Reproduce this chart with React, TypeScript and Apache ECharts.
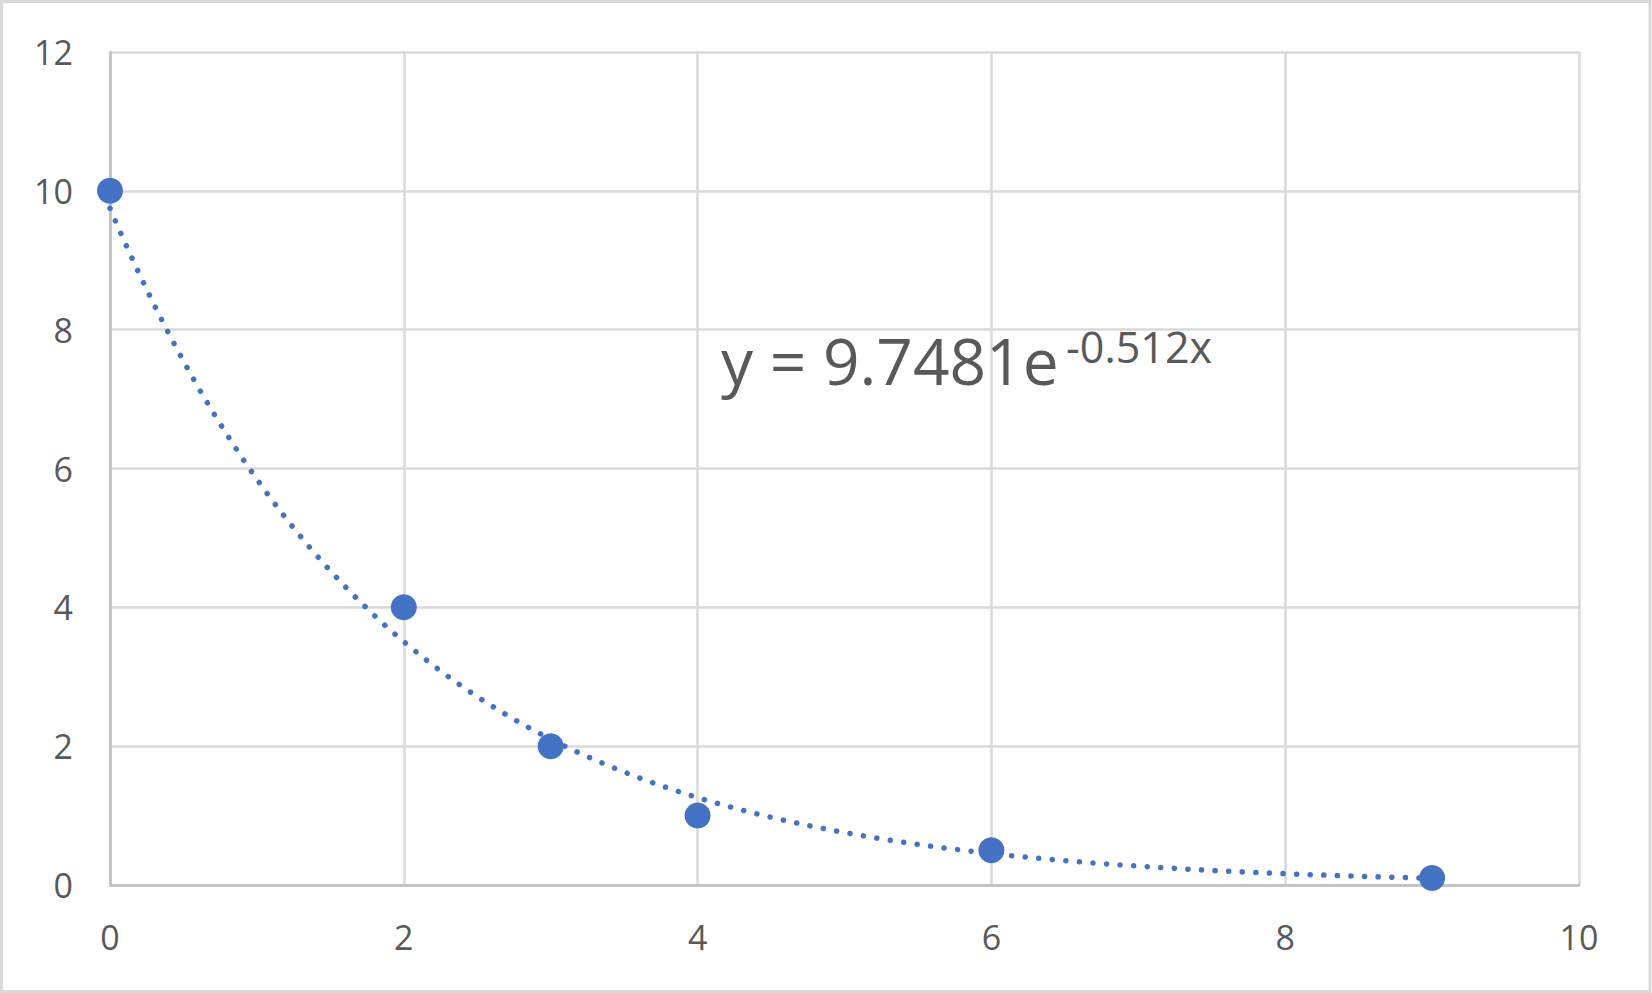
import React, { useEffect, useRef } from "react";
import * as echarts from "echarts";

// ---- data ----
const xValues = [0, 2, 3, 4, 6, 9];
const yValues = [10, 4, 2, 1, 0.5, 0.1];
const xAxisRange = { min: 0, max: 10, interval: 2 };
const yAxisRange = { min: 0, max: 12, interval: 2 };
const equationMain = "y = 9.7481e";
const equationExp = "-0.512x";

// least-squares exponential fit (ln y = ln a + b x), as Excel's trendline
function expFit(xs: number[], ys: number[]) {
  const n = xs.length;
  const ly = ys.map((v) => Math.log(v));
  const mx = xs.reduce((s, v) => s + v, 0) / n;
  const my = ly.reduce((s, v) => s + v, 0) / n;
  let sxx = 0;
  let sxy = 0;
  for (let i = 0; i < n; i++) {
    sxx += (xs[i] - mx) * (xs[i] - mx);
    sxy += (xs[i] - mx) * (ly[i] - my);
  }
  const b = sxy / sxx;
  const a = Math.exp(my - b * mx);
  return { a, b };
}

const FONT = "'Open Sans', 'Noto Sans', sans-serif";
const TEXT = "#595959";
const BLUE = "#4472C4";

export default function App() {
  const ref = useRef<HTMLDivElement>(null);

  useEffect(() => {
    if (!ref.current) return;
    const chart = echarts.init(ref.current, null, { renderer: "svg" });
    const { a, b } = expFit(xValues, yValues);
    const x0 = Math.min(...xValues);
    const x1 = Math.max(...xValues);
    const steps = 180;
    const trend: number[][] = [];
    for (let i = 0; i <= steps; i++) {
      const x = x0 + ((x1 - x0) * i) / steps;
      trend.push([x, a * Math.exp(b * x)]);
    }
    const points = xValues.map((x, i) => [x, yValues[i]]);

    chart.setOption({
      animation: false,
      backgroundColor: "#ffffff",
      grid: { left: 110, right: 73, top: 52, bottom: 108 },
      xAxis: {
        type: "value",
        min: xAxisRange.min,
        max: xAxisRange.max,
        interval: xAxisRange.interval,
        axisLine: { show: true, onZero: false, lineStyle: { color: "#bfbfbf", width: 2.5 } },
        axisTick: { show: false },
        axisLabel: { color: TEXT, fontSize: 34, fontFamily: FONT, margin: 35 },
        splitLine: { show: true, lineStyle: { color: "#d9d9d9", width: 2.5 } },
      },
      yAxis: {
        type: "value",
        min: yAxisRange.min,
        max: yAxisRange.max,
        interval: yAxisRange.interval,
        axisLine: { show: true, onZero: false, lineStyle: { color: "#bfbfbf", width: 2.5 } },
        axisTick: { show: false },
        axisLabel: { color: TEXT, fontSize: 34, fontFamily: FONT, margin: 37 },
        splitLine: { show: true, lineStyle: { color: "#d9d9d9", width: 2.5 } },
      },
      series: [
        {
          type: "line",
          data: trend,
          showSymbol: false,
          symbol: "none",
          smooth: false,
          z: 2,
          lineStyle: { color: BLUE, width: 5.5, type: [0.1, 13.5], cap: "round" },
        },
        {
          type: "scatter",
          data: points,
          symbol: "circle",
          symbolSize: 26,
          z: 3,
          itemStyle: { color: BLUE, opacity: 1 },
        },
      ],
      graphic: [
        {
          type: "rect",
          shape: { x: 1.5, y: 1.5, width: 1648.5, height: 990 },
          style: { fill: "none", stroke: "#d9d9d9", lineWidth: 3 },
          silent: true,
          z: 10,
        },
        {
          type: "text",
          x: 721,
          y: 360,
          style: {
            text: equationMain,
            fontSize: 64,
            fontFamily: FONT,
            fill: TEXT,
            align: "left",
            verticalAlign: "middle",
          },
          z: 10,
        },
        {
          type: "text",
          x: 1066,
          y: 346,
          style: {
            text: equationExp,
            fontSize: 43,
            fontFamily: FONT,
            fill: TEXT,
            align: "left",
            verticalAlign: "middle",
          },
          z: 10,
        },
      ],
    });

    return () => {
      chart.dispose();
    };
  }, []);

  return (
    <div
      ref={ref}
      style={{ position: "fixed", left: 0, top: 0, width: 1652, height: 993, background: "#fff" }}
    />
  );
}
